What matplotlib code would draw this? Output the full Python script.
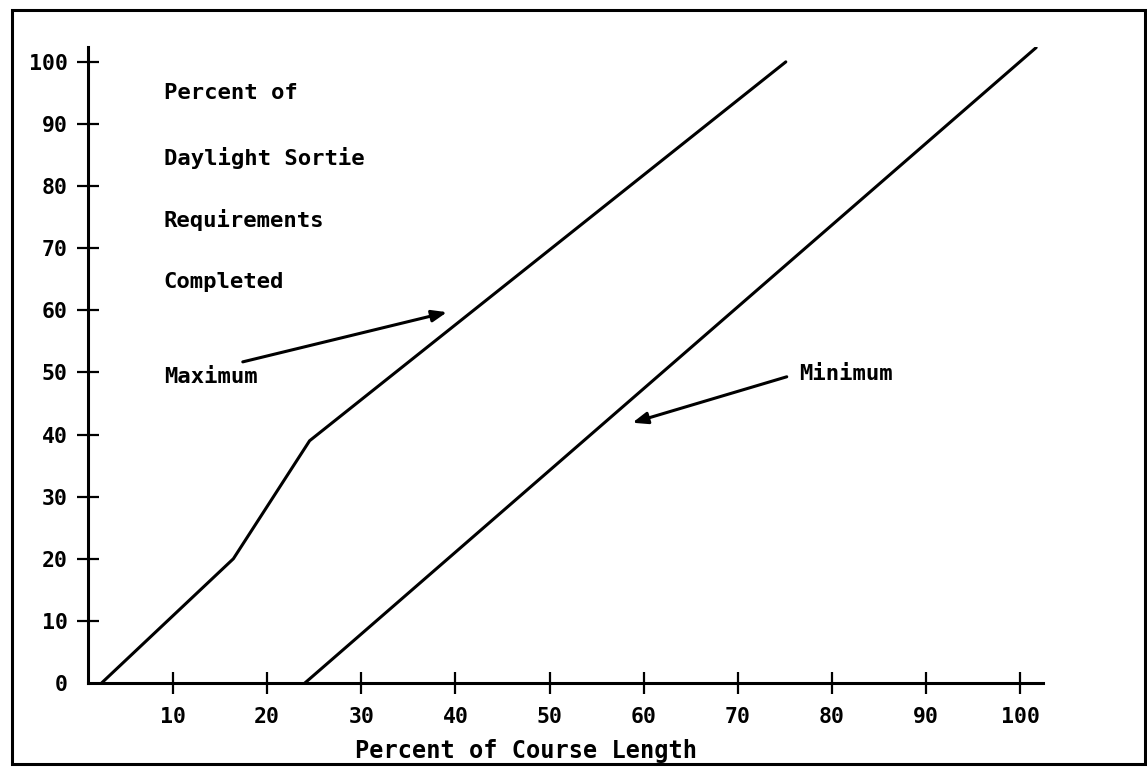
import matplotlib
matplotlib.use("Agg")
import matplotlib.pyplot as plt
from matplotlib.patches import Rectangle

# data
max_x = [2.4, 16.4, 24.5, 75.1]
max_y = [0, 20, 39, 100]
min_x = [24.0, 101.7]
min_y = [0, 102.3]
ticks = [10, 20, 30, 40, 50, 60, 70, 80, 90, 100]
title_lines = ["Percent of", "Daylight Sortie", "Requirements", "Completed"]

font = dict(family="DejaVu Sans Mono", weight="bold")

fig = plt.figure(figsize=(11.47, 7.70), dpi=100)
ax = fig.add_axes([0.0771, 0.113, 0.832, 0.826])

ax.plot(max_x, max_y, color="black", lw=2.2, solid_capstyle="round")
ax.plot(min_x, min_y, color="black", lw=2.2, solid_capstyle="round")

ax.set_xlim(1, 102.4)
ax.set_ylim(0, 102.4)
for s in ["top", "right"]:
    ax.spines[s].set_visible(False)
for s in ["left", "bottom"]:
    ax.spines[s].set_linewidth(2.2)

ax.set_xticks(ticks)
ax.set_yticks([0] + ticks)
ax.set_xticklabels([str(t) for t in ticks], **font, fontsize=15.5)
ax.set_yticklabels([str(t) for t in [0] + ticks], **font, fontsize=15.5)
ax.tick_params(axis="x", direction="inout", length=16, width=1.6, pad=9)
ax.tick_params(axis="y", direction="inout", length=16, width=1.6, pad=7)
ax.yaxis.majorTicks[0].tick1line.set_visible(False)

ax.set_xlabel("Percent of Course Length", fontsize=17, labelpad=9, **font)
ax.xaxis.label.set_x(0.458)

# text block on the left
ys = [95, 84.5, 74.5, 64.5]
for line, y in zip(title_lines, ys):
    ax.text(9, y, line, fontsize=16, va="center", ha="left", **font)

ax.text(9, 49.3, "Maximum", fontsize=16, va="center", ha="left", **font)
ax.text(76.5, 49.8, "Minimum", fontsize=16, va="center", ha="left", **font)

arrow = dict(arrowstyle="-|>,head_length=0.9,head_width=0.35", color="black", lw=2.2,
             shrinkA=0, shrinkB=0)
ax.annotate("", xy=(39.1, 59.7), xytext=(17.4, 51.7), arrowprops=arrow)
ax.annotate("", xy=(58.8, 41.9), xytext=(75.2, 49.3), arrowprops=arrow)

# border around the whole figure
fig.patches.append(Rectangle((0.0105, 0.008), 0.9875, 0.979, transform=fig.transFigure,
                             fill=False, lw=2.2, edgecolor="black"))

fig.savefig("out.png", dpi=100)
